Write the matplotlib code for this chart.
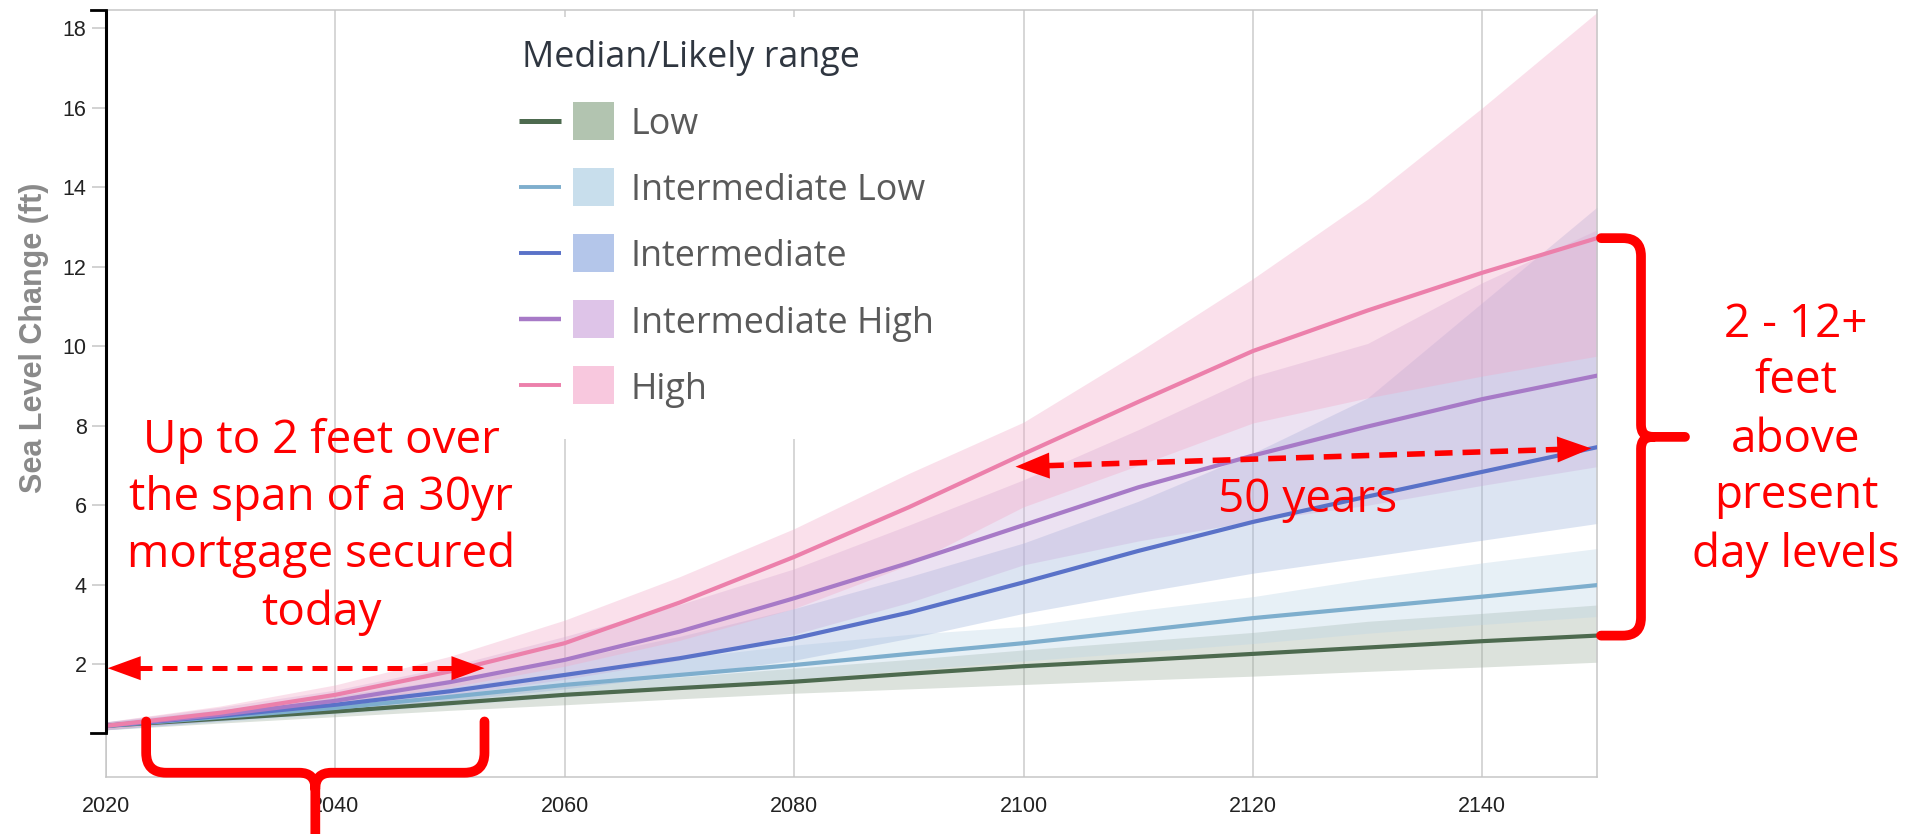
import matplotlib
matplotlib.use("Agg")
import numpy as np
import matplotlib.pyplot as plt
from matplotlib.path import Path
from matplotlib.patches import PathPatch, Polygon, Rectangle
from matplotlib.lines import Line2D
from matplotlib.transforms import IdentityTransform

plt.rcParams['font.family'] = ['Liberation Sans', 'DejaVu Sans']

# ---------------------------------------------------------------- data (ft)
years = [2020, 2030, 2040, 2050, 2060, 2070, 2080, 2090, 2100, 2110, 2120, 2130, 2140, 2150]
scenario_names = ["Low", "Intermediate Low", "Intermediate", "Intermediate High", "High"]

low_median = [0.45, 0.63, 0.81, 1.02, 1.23, 1.40, 1.56, 1.76, 1.95, 2.10, 2.26, 2.42, 2.58, 2.72]
low_lower = [0.35, 0.52, 0.68, 0.84, 0.98, 1.13, 1.27, 1.38, 1.49, 1.60, 1.70, 1.82, 1.93, 2.05]
low_upper = [0.55, 0.74, 0.95, 1.20, 1.45, 1.68, 1.90, 2.12, 2.36, 2.58, 2.80, 3.08, 3.28, 3.49]

int_low_median = [0.45, 0.67, 0.90, 1.18, 1.48, 1.73, 1.98, 2.26, 2.53, 2.84, 3.16, 3.43, 3.70, 3.99]
int_low_lower = [0.35, 0.55, 0.74, 0.96, 1.18, 1.40, 1.62, 1.85, 2.08, 2.30, 2.52, 2.78, 3.00, 3.20]
int_low_upper = [0.55, 0.80, 1.08, 1.42, 1.80, 2.15, 2.48, 2.75, 2.95, 3.35, 3.70, 4.15, 4.55, 4.91]

int_median = [0.45, 0.70, 0.98, 1.32, 1.73, 2.15, 2.65, 3.30, 4.06, 4.85, 5.58, 6.22, 6.84, 7.46]
int_lower = [0.35, 0.57, 0.80, 1.08, 1.38, 1.72, 2.10, 2.65, 3.28, 3.80, 4.29, 4.70, 5.12, 5.54]
int_upper = [0.55, 0.85, 1.20, 1.62, 2.10, 2.70, 3.40, 4.20, 5.05, 6.10, 7.31, 8.70, 11.10, 13.50]

int_high_median = [0.45, 0.73, 1.08, 1.55, 2.11, 2.82, 3.66, 4.55, 5.50, 6.45, 7.25, 7.98, 8.67, 9.26]
int_high_lower = [0.35, 0.60, 0.88, 1.22, 1.62, 2.10, 2.75, 3.55, 4.50, 5.10, 5.60, 6.00, 6.50, 6.97]
int_high_upper = [0.55, 0.92, 1.35, 1.95, 2.70, 3.50, 4.40, 5.50, 6.64, 7.90, 9.24, 10.07, 11.60, 12.93]

high_median = [0.45, 0.78, 1.23, 1.82, 2.53, 3.55, 4.70, 5.95, 7.29, 8.60, 9.88, 10.90, 11.85, 12.72]
high_lower = [0.35, 0.65, 1.00, 1.42, 1.95, 2.60, 3.40, 4.50, 5.96, 7.00, 8.07, 8.70, 9.25, 9.75]
high_upper = [0.55, 0.95, 1.48, 2.20, 3.11, 4.20, 5.41, 6.80, 8.09, 9.85, 11.70, 13.70, 16.00, 18.40]

medians = [low_median, int_low_median, int_median, int_high_median, high_median]
lowers = [low_lower, int_low_lower, int_lower, int_high_lower, high_lower]
uppers = [low_upper, int_low_upper, int_upper, int_high_upper, high_upper]

x_ticks = [2020, 2040, 2060, 2080, 2100, 2120, 2140]
y_ticks = [2, 4, 6, 8, 10, 12, 14, 16, 18]

# annotation anchors (data units)
mortgage_span = (2020.15, 2053.0)
mortgage_level = 1.90
horizon_start = (2099.3, 6.97)
horizon_end = (2149.5, 7.43)
baseline_level = 0.28

# ---------------------------------------------------------------- styles
line_colors = ['#4d6a4f', '#7eaecd', '#5a72c8', '#a77ac7', '#ec80ab']
band_colors = ['#9bad9b', '#bcd5e6', '#9cb3dc', '#caaddb', '#f3a7c6']
swatch_colors = ['#b2c4b0', '#c8deec', '#b4c6ea', '#dec4e8', '#f8c8de']
RED = '#ff0000'
ANNOT_FONT = ['Open Sans', 'DejaVu Sans']
ANNOT_SIZE = 33
LEGEND_SIZE = 25.8

W, H = 1909, 834
fig = plt.figure(figsize=(W / 100, H / 100), dpi=100)
AX_L, AX_R, AX_T, AX_B = 106, 1597, 10, 776.7
ax = fig.add_axes([AX_L / W, 1 - AX_B / H, (AX_R - AX_L) / W, (AX_B - AX_T) / H])
ax.set_xlim(2020, 2150)
ax.set_ylim(-0.83, 18.46)

for lo, hi, c in zip(lowers, uppers, band_colors):
    ax.fill_between(years, lo, hi, color=c, alpha=0.35, lw=0, zorder=2)
for med, c in zip(medians, line_colors):
    ax.plot(years, med, color=c, lw=3.0, zorder=3, solid_joinstyle='round')

ax.set_xticks(x_ticks)
ax.set_xticklabels([str(y) for y in x_ticks])
ax.set_yticks(y_ticks)
ax.set_yticklabels([str(y) for y in y_ticks])
ax.grid(axis='x', color='#cbcbcb', lw=1.1, zorder=0)
ax.grid(axis='y', visible=False)
ax.set_axisbelow(True)
ax.tick_params(axis='x', length=0, pad=14, labelsize=15.5, labelcolor='#222222')
ax.tick_params(axis='y', length=10, width=1.1, color='#c6c6c6', pad=4,
               labelsize=15.5, labelcolor='#222222')
for s in ax.spines.values():
    s.set_color('#c6c6c6')
    s.set_linewidth(1.1)

ax.set_ylabel('Sea Level Change (ft)', fontsize=22, fontweight='bold', color='#8a8a8a')
ax.yaxis.set_label_coords(-0.038, 0.572)

ident = IdentityTransform()


def img(x, y):
    """image pixel (origin top-left) -> display coords"""
    return np.array([x, H - y], float)


def dat(x, y):
    return np.array(ax.transData.transform((x, y)), float)


# black upper part of the value axis with its end ticks
p_base = dat(2020, baseline_level)
p_top = dat(2020, 18.46)
fig.add_artist(Line2D([p_base[0], p_top[0]], [p_base[1], p_top[1]], transform=ident,
                      color='black', lw=2.2, zorder=6, solid_capstyle='butt'))
for p in (p_base, p_top):
    fig.add_artist(Line2D([p[0] - 15, p[0]], [p[1], p[1]], transform=ident,
                          color='black', lw=2.0, zorder=6))

# ---------------------------------------------------------------- legend
bg = Rectangle(img(505, 439), 470, 422, transform=ident, fc='white', ec='none', zorder=5)
fig.add_artist(bg)
fig.text(*img(522, 66.7), 'Median/Likely range', transform=ident, ha='left', va='baseline',
         fontsize=LEGEND_SIZE, color='#2f3640', family=['Open Sans', 'DejaVu Sans'], zorder=6)
row_y = [121, 187, 253, 319, 385]
for name, lc, sc, ry, lw in zip(scenario_names, line_colors, swatch_colors, row_y,
                                [3.6, 2.8, 2.8, 3.2, 2.8]):
    a, b = img(519, ry), img(561, ry)
    fig.add_artist(Line2D([a[0], b[0]], [a[1], b[1]], transform=ident, color=lc, lw=lw,
                          zorder=6, solid_capstyle='butt'))
    fig.add_artist(Rectangle(img(573, ry + 19), 41, 38, transform=ident, fc=sc, ec='none', zorder=6))
    fig.text(*img(631, ry), name, transform=ident, ha='left', va='center_baseline',
             fontsize=LEGEND_SIZE, color='#5a5a5a', family=['Open Sans', 'DejaVu Sans'], zorder=6)


# ---------------------------------------------------------------- annotations
def dashed_arrow(p0, p1, lw, dash, head_len, head_w):
    p0 = np.asarray(p0, float)
    p1 = np.asarray(p1, float)
    d = (p1 - p0) / np.linalg.norm(p1 - p0)
    n = np.array([-d[1], d[0]])
    s0 = p0 + d * head_len * 0.9
    s1 = p1 - d * head_len * 0.9
    fig.add_artist(Line2D([s0[0], s1[0]], [s0[1], s1[1]], transform=ident, color=RED, lw=lw,
                          dashes=dash, dash_capstyle='butt', zorder=20))
    for tip, dv in ((p1, d), (p0, -d)):
        base = tip - dv * head_len
        fig.add_artist(Polygon([tip, base + n * head_w / 2, base - n * head_w / 2], closed=True,
                               transform=ident, fc=RED, ec='none', zorder=20))


dashed_arrow(dat(mortgage_span[0], mortgage_level), dat(mortgage_span[1], mortgage_level),
             lw=3.6, dash=(3.0, 2.0), head_len=33, head_w=24)
dashed_arrow(dat(*horizon_start), dat(*horizon_end), lw=4.0, dash=(3.2, 1.8), head_len=34, head_w=26)


def brace_patch(verts, codes):
    return PathPatch(Path(verts, codes), transform=ident, fc='none', ec=RED, lw=7.0,
                     capstyle='round', joinstyle='round', zorder=20)


M, L, Q = Path.MOVETO, Path.LINETO, Path.CURVE3

# horizontal brace under the mortgage span
lx = dat(2023.5, 0)[0]
rx = dat(2053.0, 0)[0]
cx = (lx + rx) / 2
ytop = dat(2020, 0.56)[1]
ybar = dat(2020, -0.73)[1]
r, r2 = 20, 16
verts = [(lx, ytop), (lx, ybar + r), (lx, ybar), (lx + r, ybar), (cx - r2, ybar), (cx, ybar),
         (cx, ybar - r2), (cx, -10),
         (cx, ybar - r2), (cx, ybar), (cx + r2, ybar), (rx - r, ybar), (rx, ybar), (rx, ybar + r),
         (rx, ytop)]
codes = [M, L, Q, Q, L, Q, Q, L, M, Q, Q, L, Q, Q, L]
fig.add_artist(brace_patch(verts, codes))

# vertical brace spanning the 2150 range of median outcomes
x0 = dat(2150, 0)[0] + 4
xv = x0 + 40
xt = x0 + 84
yt = dat(2150, high_median[-1])[1]
yb = dat(2150, low_median[-1])[1]
ym = (yt + yb) / 2
r, r2 = 18, 12
verts = [(x0, yt), (xv - r, yt), (xv, yt), (xv, yt - r), (xv, ym + r2), (xv, ym), (xv + r2, ym),
         (xt, ym),
         (xv + r2, ym), (xv, ym), (xv, ym - r2), (xv, yb + r), (xv, yb), (xv - r, yb), (x0, yb)]
codes = [M, L, Q, Q, L, Q, Q, L, M, Q, Q, L, Q, Q, L]
fig.add_artist(brace_patch(verts, codes))


def red_lines(cx, baselines, lines):
    for yb_, s in zip(baselines, lines):
        fig.text(*img(cx, yb_), s, transform=ident, ha='center', va='baseline', fontsize=ANNOT_SIZE,
                 color=RED, family=ANNOT_FONT, zorder=21)


red_lines(321, [453, 510, 567, 625],
          ["Up to 2 feet over", "the span of a 30yr", "mortgage secured", "today"])
red_lines(1308, [511.7], ["50 years"])
red_lines(1796, [336.7, 393, 451.7, 508, 566.7],
          ["2 - 12+", "feet", "above", "present", "day levels"])

fig.savefig('out.png', dpi=100)
